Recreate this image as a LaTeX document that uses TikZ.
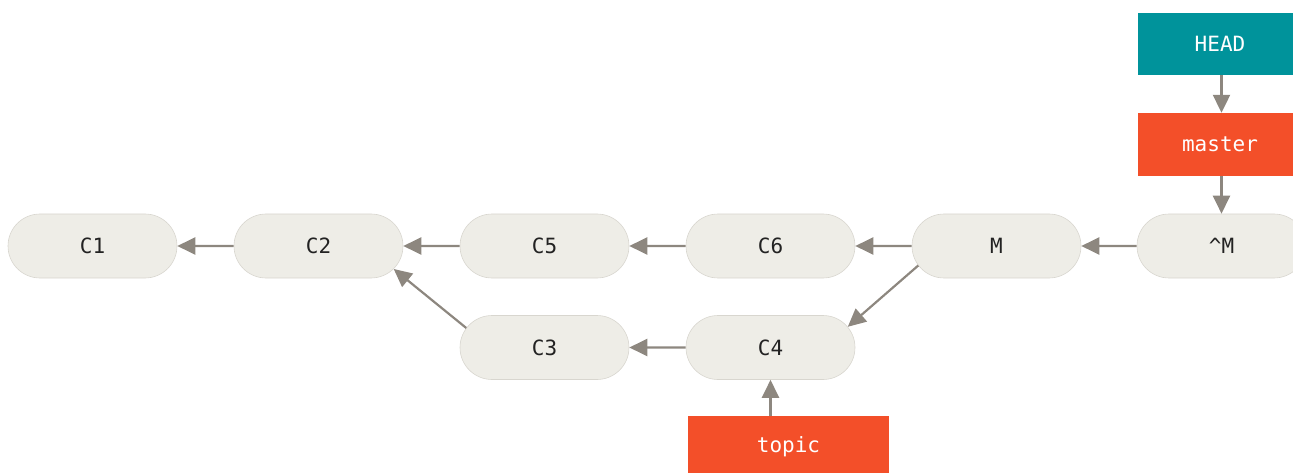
\documentclass[tikz,border=0pt]{standalone}
\usepackage{fontspec}
\setmonofont{DejaVu Sans Mono}
\usetikzlibrary{shapes.misc,arrows.meta}
\definecolor{cfill}{HTML}{EEEDE7}
\definecolor{cborder}{HTML}{D8D6CF}
\definecolor{arrc}{HTML}{8D877F}
\definecolor{headc}{HTML}{00939B}
\definecolor{branchc}{HTML}{F34F29}
\definecolor{ctext}{HTML}{222222}
\begin{document}
\begin{tikzpicture}[x=1pt,y=-1pt,
  commit/.style={rounded rectangle, draw=cborder, line width=0.6pt, fill=cfill,
    minimum width=169pt, minimum height=64pt, inner sep=0pt,
    font=\ttfamily\fontsize{21}{21}\selectfont, text=ctext},
  refbox/.style={rectangle, draw=none, inner sep=0pt, text=white,
    font=\ttfamily\fontsize{21}{21}\selectfont},
  arr/.style={draw=arrc, line width=2.2pt, -{Triangle[length=18pt,width=17pt]}}]
\useasboundingbox (0,0) rectangle (1293,473);
\node[commit] (C1) at (92.5,246) {C1};
\node[commit] (C2) at (318.5,246) {C2};
\node[commit] (C5) at (544.5,246) {C5};
\node[commit] (C6) at (770.5,246) {C6};
\node[commit] (M) at (996.5,246) {M};
\node[commit] (hatM) at (1221.5,246) {\textasciicircum M};
\node[commit] (C3) at (544.5,347.5) {C3};
\node[commit] (C4) at (770.5,347.5) {C4};
\node[refbox, fill=headc, minimum width=164pt, minimum height=62pt] (HEAD) at (1220,44) {HEAD};
\node[refbox, fill=branchc, minimum width=164pt, minimum height=63pt] (master) at (1220,144.5) {master};
\node[refbox, fill=branchc, minimum width=201pt, minimum height=62pt] (topic) at (788.5,447) {topic};
\draw[arr] (C2) -- (C1);
\draw[arr] (C5) -- (C2);
\draw[arr] (C6) -- (C5);
\draw[arr] (M) -- (C6);
\draw[arr] (hatM) -- (M);
\draw[arr] (C4) -- (C3);
\draw[arr] (C3.166) -- (C2.343);
\draw[arr] (M.194) -- (C4.15);
\draw[arr] (HEAD.south -| hatM) -- (master.north -| hatM);
\draw[arr] (master.south -| hatM) -- (hatM.north);
\draw[arr] (topic.north -| C4) -- (C4.south);
\end{tikzpicture}
\end{document}
